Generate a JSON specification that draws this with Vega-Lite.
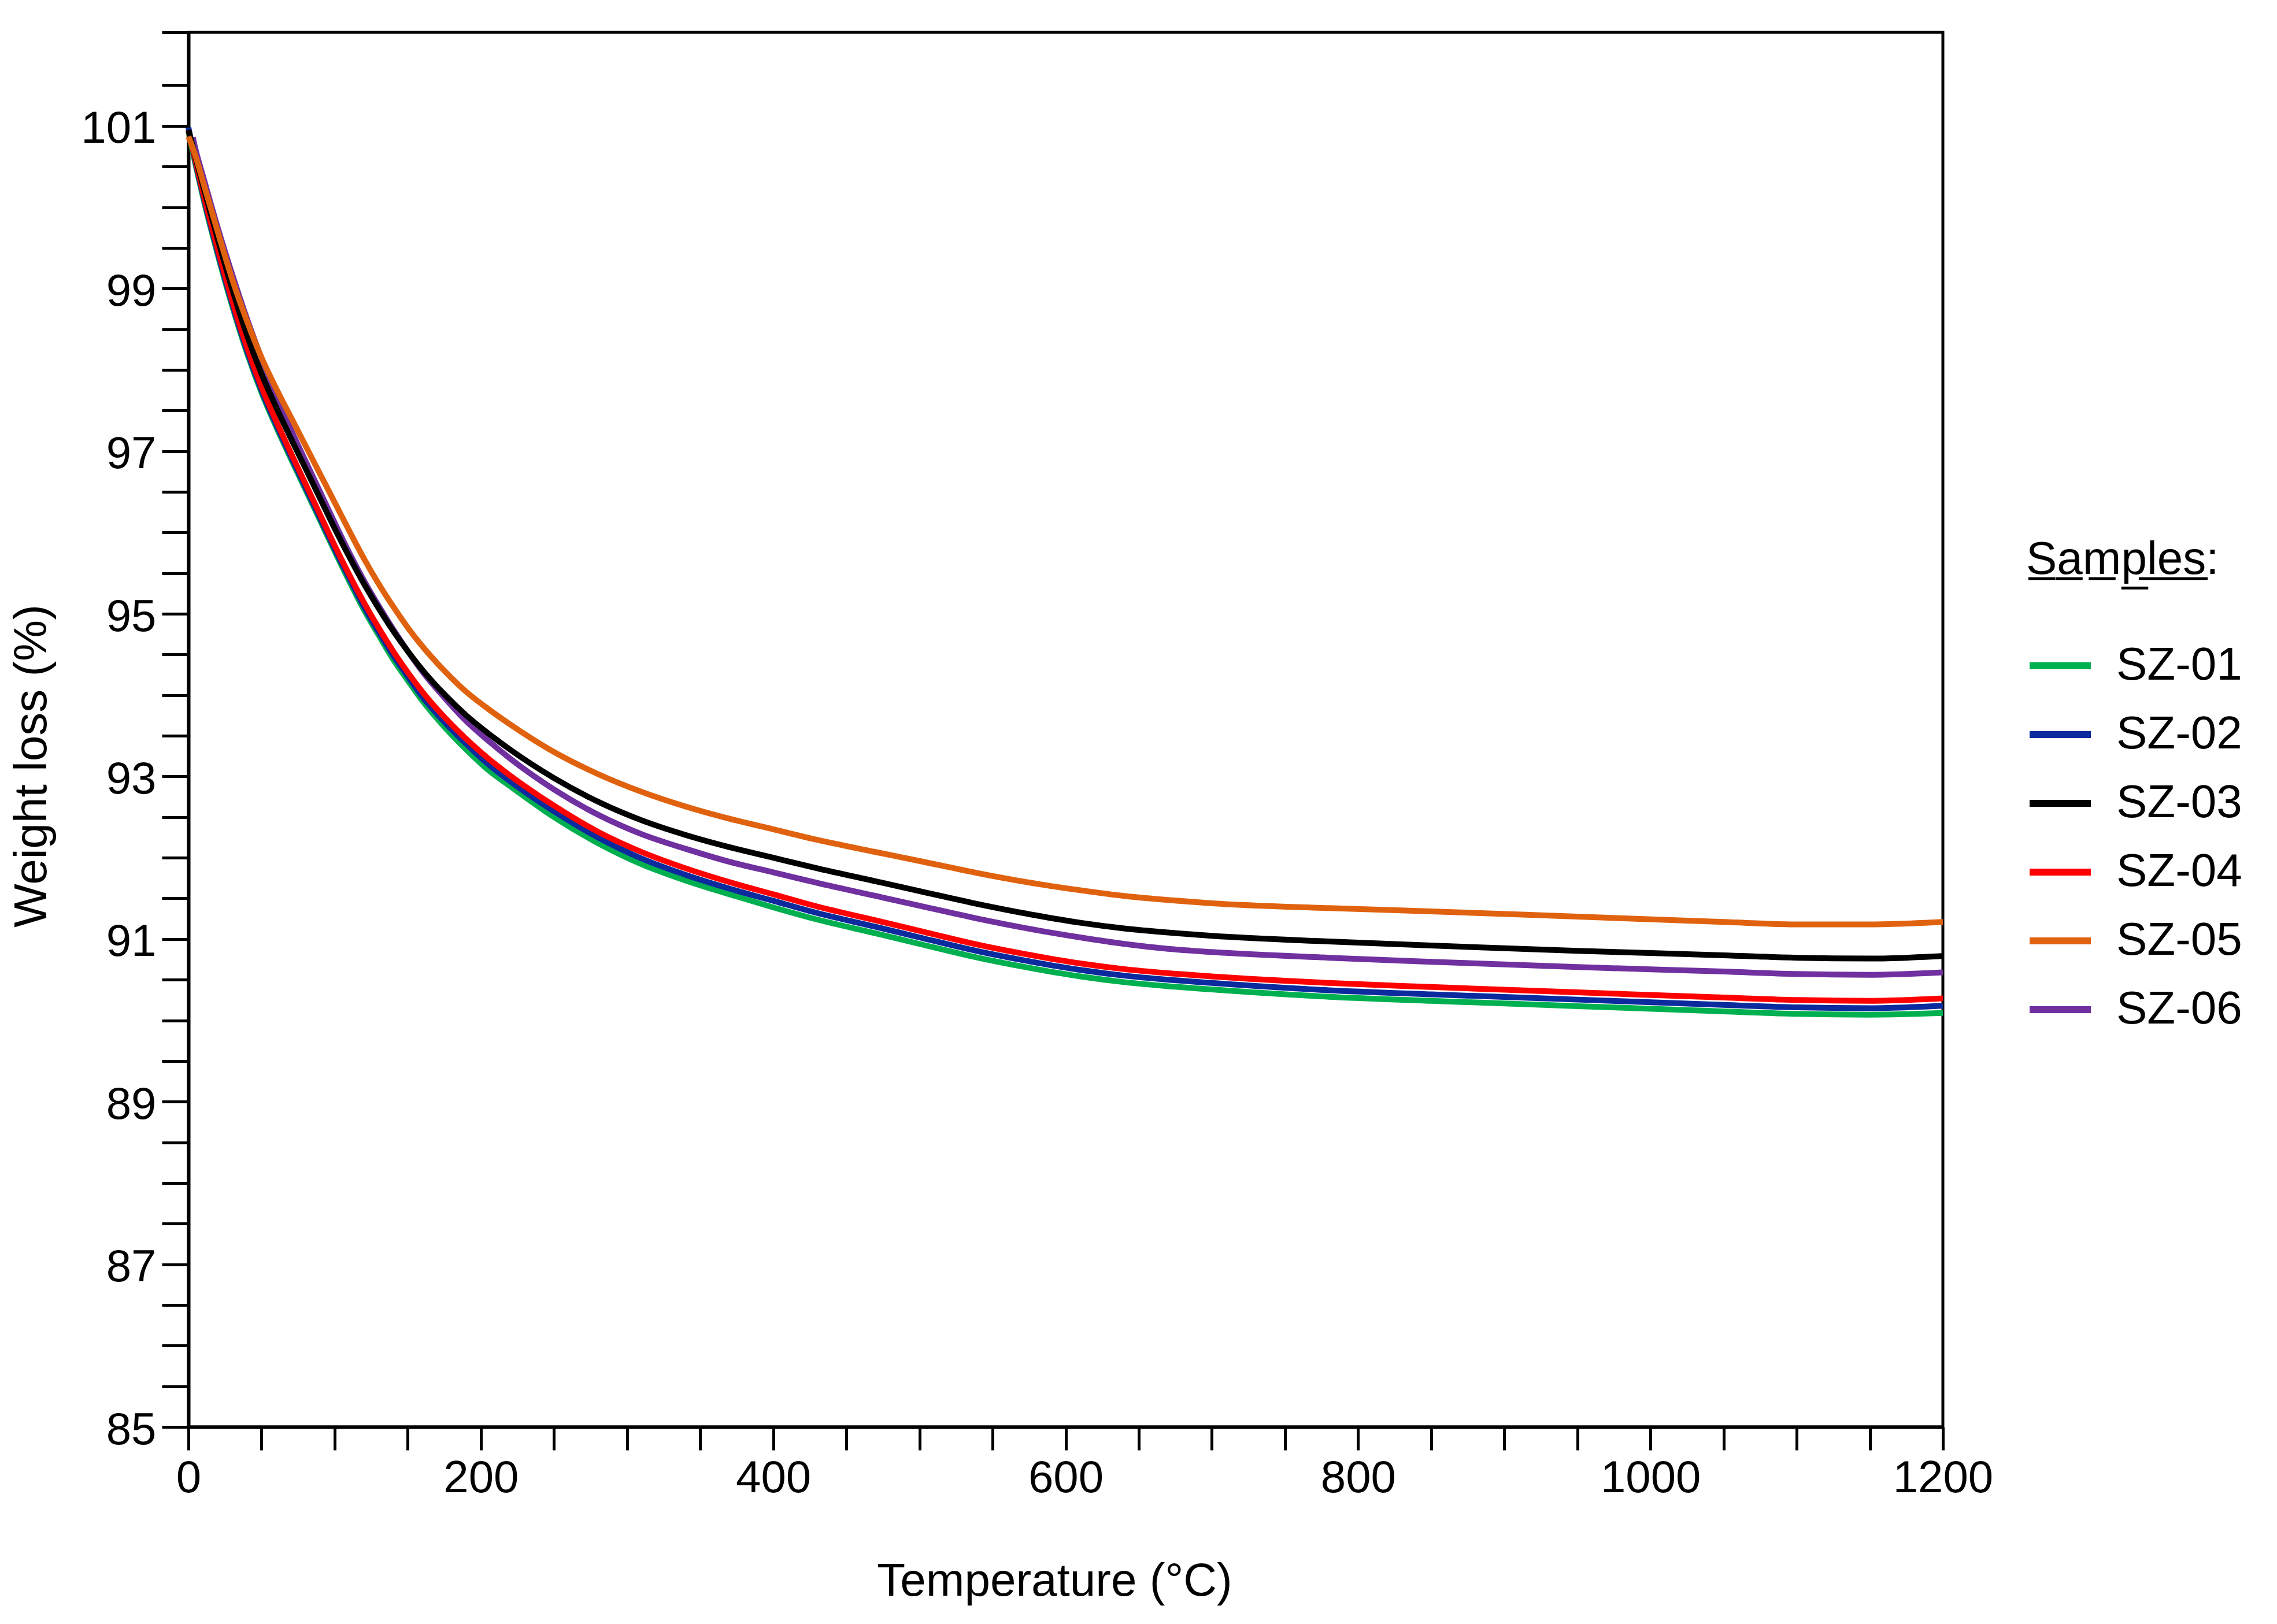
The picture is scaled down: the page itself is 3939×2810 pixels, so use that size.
{
  "$schema": "https://vega.github.io/schema/vega-lite/v6.json",
  "width": 3035,
  "height": 2413,
  "autosize": {"type": "none"},
  "padding": {"left": 326, "top": 56, "right": 578, "bottom": 341},
  "background": "white",
  "config": {
    "font": "Liberation Sans",
    "view": {"stroke": "black", "strokeWidth": 5},
    "axis": {
      "domainColor": "black",
      "tickColor": "black",
      "labelColor": "black",
      "titleColor": "black",
      "grid": false,
      "titleFontWeight": "normal",
      "labelOverlap": false,
      "labelFlush": false,
      "labelLimit": 600
    }
  },
  "data": {
    "values": [
      {"sample": "SZ-01", "temp": 0, "weight": 100.93},
      {"sample": "SZ-01", "temp": 5, "weight": 100.51},
      {"sample": "SZ-01", "temp": 10, "weight": 100.12},
      {"sample": "SZ-01", "temp": 20, "weight": 99.42},
      {"sample": "SZ-01", "temp": 30, "weight": 98.78},
      {"sample": "SZ-01", "temp": 40, "weight": 98.21},
      {"sample": "SZ-01", "temp": 50, "weight": 97.72},
      {"sample": "SZ-01", "temp": 60, "weight": 97.3},
      {"sample": "SZ-01", "temp": 70, "weight": 96.91},
      {"sample": "SZ-01", "temp": 80, "weight": 96.53},
      {"sample": "SZ-01", "temp": 90, "weight": 96.15},
      {"sample": "SZ-01", "temp": 100, "weight": 95.77},
      {"sample": "SZ-01", "temp": 110, "weight": 95.4},
      {"sample": "SZ-01", "temp": 120, "weight": 95.05},
      {"sample": "SZ-01", "temp": 130, "weight": 94.74},
      {"sample": "SZ-01", "temp": 140, "weight": 94.44},
      {"sample": "SZ-01", "temp": 150, "weight": 94.18},
      {"sample": "SZ-01", "temp": 160, "weight": 93.93},
      {"sample": "SZ-01", "temp": 175, "weight": 93.61},
      {"sample": "SZ-01", "temp": 190, "weight": 93.33},
      {"sample": "SZ-01", "temp": 205, "weight": 93.08},
      {"sample": "SZ-01", "temp": 220, "weight": 92.88},
      {"sample": "SZ-01", "temp": 250, "weight": 92.5},
      {"sample": "SZ-01", "temp": 280, "weight": 92.18},
      {"sample": "SZ-01", "temp": 310, "weight": 91.92},
      {"sample": "SZ-01", "temp": 340, "weight": 91.72},
      {"sample": "SZ-01", "temp": 370, "weight": 91.55},
      {"sample": "SZ-01", "temp": 400, "weight": 91.39},
      {"sample": "SZ-01", "temp": 430, "weight": 91.24},
      {"sample": "SZ-01", "temp": 470, "weight": 91.07},
      {"sample": "SZ-01", "temp": 500, "weight": 90.94},
      {"sample": "SZ-01", "temp": 540, "weight": 90.77},
      {"sample": "SZ-01", "temp": 580, "weight": 90.63},
      {"sample": "SZ-01", "temp": 610, "weight": 90.54},
      {"sample": "SZ-01", "temp": 640, "weight": 90.47},
      {"sample": "SZ-01", "temp": 670, "weight": 90.42},
      {"sample": "SZ-01", "temp": 700, "weight": 90.38},
      {"sample": "SZ-01", "temp": 780, "weight": 90.29},
      {"sample": "SZ-01", "temp": 850, "weight": 90.24},
      {"sample": "SZ-01", "temp": 950, "weight": 90.175},
      {"sample": "SZ-01", "temp": 1050, "weight": 90.11},
      {"sample": "SZ-01", "temp": 1100, "weight": 90.08},
      {"sample": "SZ-01", "temp": 1150, "weight": 90.07},
      {"sample": "SZ-01", "temp": 1200, "weight": 90.09},

      {"sample": "SZ-02", "temp": 0, "weight": 100.98},
      {"sample": "SZ-02", "temp": 5, "weight": 100.54},
      {"sample": "SZ-02", "temp": 10, "weight": 100.15},
      {"sample": "SZ-02", "temp": 20, "weight": 99.45},
      {"sample": "SZ-02", "temp": 30, "weight": 98.81},
      {"sample": "SZ-02", "temp": 40, "weight": 98.24},
      {"sample": "SZ-02", "temp": 50, "weight": 97.75},
      {"sample": "SZ-02", "temp": 60, "weight": 97.33},
      {"sample": "SZ-02", "temp": 70, "weight": 96.94},
      {"sample": "SZ-02", "temp": 80, "weight": 96.56},
      {"sample": "SZ-02", "temp": 90, "weight": 96.18},
      {"sample": "SZ-02", "temp": 100, "weight": 95.8},
      {"sample": "SZ-02", "temp": 110, "weight": 95.44},
      {"sample": "SZ-02", "temp": 120, "weight": 95.09},
      {"sample": "SZ-02", "temp": 130, "weight": 94.78},
      {"sample": "SZ-02", "temp": 140, "weight": 94.49},
      {"sample": "SZ-02", "temp": 150, "weight": 94.23},
      {"sample": "SZ-02", "temp": 160, "weight": 93.98},
      {"sample": "SZ-02", "temp": 175, "weight": 93.67},
      {"sample": "SZ-02", "temp": 190, "weight": 93.4},
      {"sample": "SZ-02", "temp": 205, "weight": 93.15},
      {"sample": "SZ-02", "temp": 220, "weight": 92.94},
      {"sample": "SZ-02", "temp": 250, "weight": 92.57},
      {"sample": "SZ-02", "temp": 280, "weight": 92.25},
      {"sample": "SZ-02", "temp": 310, "weight": 91.99},
      {"sample": "SZ-02", "temp": 340, "weight": 91.79},
      {"sample": "SZ-02", "temp": 370, "weight": 91.62},
      {"sample": "SZ-02", "temp": 400, "weight": 91.47},
      {"sample": "SZ-02", "temp": 430, "weight": 91.32},
      {"sample": "SZ-02", "temp": 470, "weight": 91.15},
      {"sample": "SZ-02", "temp": 500, "weight": 91.02},
      {"sample": "SZ-02", "temp": 540, "weight": 90.85},
      {"sample": "SZ-02", "temp": 580, "weight": 90.71},
      {"sample": "SZ-02", "temp": 610, "weight": 90.62},
      {"sample": "SZ-02", "temp": 640, "weight": 90.55},
      {"sample": "SZ-02", "temp": 670, "weight": 90.5},
      {"sample": "SZ-02", "temp": 700, "weight": 90.46},
      {"sample": "SZ-02", "temp": 780, "weight": 90.37},
      {"sample": "SZ-02", "temp": 850, "weight": 90.32},
      {"sample": "SZ-02", "temp": 950, "weight": 90.255},
      {"sample": "SZ-02", "temp": 1050, "weight": 90.19},
      {"sample": "SZ-02", "temp": 1100, "weight": 90.16},
      {"sample": "SZ-02", "temp": 1150, "weight": 90.15},
      {"sample": "SZ-02", "temp": 1200, "weight": 90.18},

      {"sample": "SZ-04", "temp": 0, "weight": 100.95},
      {"sample": "SZ-04", "temp": 5, "weight": 100.56},
      {"sample": "SZ-04", "temp": 10, "weight": 100.18},
      {"sample": "SZ-04", "temp": 20, "weight": 99.49},
      {"sample": "SZ-04", "temp": 30, "weight": 98.85},
      {"sample": "SZ-04", "temp": 40, "weight": 98.28},
      {"sample": "SZ-04", "temp": 50, "weight": 97.79},
      {"sample": "SZ-04", "temp": 60, "weight": 97.37},
      {"sample": "SZ-04", "temp": 70, "weight": 96.98},
      {"sample": "SZ-04", "temp": 80, "weight": 96.6},
      {"sample": "SZ-04", "temp": 90, "weight": 96.22},
      {"sample": "SZ-04", "temp": 100, "weight": 95.84},
      {"sample": "SZ-04", "temp": 110, "weight": 95.48},
      {"sample": "SZ-04", "temp": 120, "weight": 95.14},
      {"sample": "SZ-04", "temp": 130, "weight": 94.83},
      {"sample": "SZ-04", "temp": 140, "weight": 94.54},
      {"sample": "SZ-04", "temp": 150, "weight": 94.28},
      {"sample": "SZ-04", "temp": 160, "weight": 94.04},
      {"sample": "SZ-04", "temp": 175, "weight": 93.73},
      {"sample": "SZ-04", "temp": 190, "weight": 93.46},
      {"sample": "SZ-04", "temp": 205, "weight": 93.22},
      {"sample": "SZ-04", "temp": 220, "weight": 93.01},
      {"sample": "SZ-04", "temp": 250, "weight": 92.64},
      {"sample": "SZ-04", "temp": 280, "weight": 92.32},
      {"sample": "SZ-04", "temp": 310, "weight": 92.07},
      {"sample": "SZ-04", "temp": 340, "weight": 91.87},
      {"sample": "SZ-04", "temp": 370, "weight": 91.7},
      {"sample": "SZ-04", "temp": 400, "weight": 91.55},
      {"sample": "SZ-04", "temp": 430, "weight": 91.4},
      {"sample": "SZ-04", "temp": 470, "weight": 91.23},
      {"sample": "SZ-04", "temp": 500, "weight": 91.1},
      {"sample": "SZ-04", "temp": 540, "weight": 90.93},
      {"sample": "SZ-04", "temp": 580, "weight": 90.79},
      {"sample": "SZ-04", "temp": 610, "weight": 90.7},
      {"sample": "SZ-04", "temp": 640, "weight": 90.63},
      {"sample": "SZ-04", "temp": 670, "weight": 90.58},
      {"sample": "SZ-04", "temp": 700, "weight": 90.54},
      {"sample": "SZ-04", "temp": 780, "weight": 90.46},
      {"sample": "SZ-04", "temp": 850, "weight": 90.41},
      {"sample": "SZ-04", "temp": 950, "weight": 90.345},
      {"sample": "SZ-04", "temp": 1050, "weight": 90.28},
      {"sample": "SZ-04", "temp": 1100, "weight": 90.25},
      {"sample": "SZ-04", "temp": 1150, "weight": 90.24},
      {"sample": "SZ-04", "temp": 1200, "weight": 90.27},

      {"sample": "SZ-06", "temp": 3, "weight": 100.86},
      {"sample": "SZ-06", "temp": 5, "weight": 100.7},
      {"sample": "SZ-06", "temp": 10, "weight": 100.38},
      {"sample": "SZ-06", "temp": 20, "weight": 99.75},
      {"sample": "SZ-06", "temp": 30, "weight": 99.17},
      {"sample": "SZ-06", "temp": 40, "weight": 98.63},
      {"sample": "SZ-06", "temp": 50, "weight": 98.14},
      {"sample": "SZ-06", "temp": 60, "weight": 97.69},
      {"sample": "SZ-06", "temp": 70, "weight": 97.27},
      {"sample": "SZ-06", "temp": 80, "weight": 96.88},
      {"sample": "SZ-06", "temp": 90, "weight": 96.5},
      {"sample": "SZ-06", "temp": 100, "weight": 96.12},
      {"sample": "SZ-06", "temp": 110, "weight": 95.75},
      {"sample": "SZ-06", "temp": 120, "weight": 95.41},
      {"sample": "SZ-06", "temp": 130, "weight": 95.1},
      {"sample": "SZ-06", "temp": 140, "weight": 94.81},
      {"sample": "SZ-06", "temp": 150, "weight": 94.54},
      {"sample": "SZ-06", "temp": 160, "weight": 94.29},
      {"sample": "SZ-06", "temp": 175, "weight": 93.97},
      {"sample": "SZ-06", "temp": 190, "weight": 93.68},
      {"sample": "SZ-06", "temp": 205, "weight": 93.44},
      {"sample": "SZ-06", "temp": 220, "weight": 93.22},
      {"sample": "SZ-06", "temp": 250, "weight": 92.84},
      {"sample": "SZ-06", "temp": 280, "weight": 92.53},
      {"sample": "SZ-06", "temp": 310, "weight": 92.29},
      {"sample": "SZ-06", "temp": 340, "weight": 92.11},
      {"sample": "SZ-06", "temp": 370, "weight": 91.95},
      {"sample": "SZ-06", "temp": 400, "weight": 91.82},
      {"sample": "SZ-06", "temp": 430, "weight": 91.69},
      {"sample": "SZ-06", "temp": 470, "weight": 91.53},
      {"sample": "SZ-06", "temp": 500, "weight": 91.41},
      {"sample": "SZ-06", "temp": 540, "weight": 91.25},
      {"sample": "SZ-06", "temp": 580, "weight": 91.11},
      {"sample": "SZ-06", "temp": 610, "weight": 91.02},
      {"sample": "SZ-06", "temp": 640, "weight": 90.94},
      {"sample": "SZ-06", "temp": 670, "weight": 90.88},
      {"sample": "SZ-06", "temp": 700, "weight": 90.84},
      {"sample": "SZ-06", "temp": 780, "weight": 90.77},
      {"sample": "SZ-06", "temp": 850, "weight": 90.72},
      {"sample": "SZ-06", "temp": 950, "weight": 90.655},
      {"sample": "SZ-06", "temp": 1050, "weight": 90.6},
      {"sample": "SZ-06", "temp": 1100, "weight": 90.57},
      {"sample": "SZ-06", "temp": 1150, "weight": 90.56},
      {"sample": "SZ-06", "temp": 1200, "weight": 90.59},

      {"sample": "SZ-03", "temp": 0, "weight": 100.95},
      {"sample": "SZ-03", "temp": 5, "weight": 100.6},
      {"sample": "SZ-03", "temp": 10, "weight": 100.26},
      {"sample": "SZ-03", "temp": 20, "weight": 99.61},
      {"sample": "SZ-03", "temp": 30, "weight": 98.99},
      {"sample": "SZ-03", "temp": 40, "weight": 98.43},
      {"sample": "SZ-03", "temp": 50, "weight": 97.95},
      {"sample": "SZ-03", "temp": 60, "weight": 97.54},
      {"sample": "SZ-03", "temp": 70, "weight": 97.16},
      {"sample": "SZ-03", "temp": 80, "weight": 96.79},
      {"sample": "SZ-03", "temp": 90, "weight": 96.42},
      {"sample": "SZ-03", "temp": 100, "weight": 96.05},
      {"sample": "SZ-03", "temp": 110, "weight": 95.7},
      {"sample": "SZ-03", "temp": 120, "weight": 95.37},
      {"sample": "SZ-03", "temp": 130, "weight": 95.07},
      {"sample": "SZ-03", "temp": 140, "weight": 94.79},
      {"sample": "SZ-03", "temp": 150, "weight": 94.54},
      {"sample": "SZ-03", "temp": 160, "weight": 94.31},
      {"sample": "SZ-03", "temp": 175, "weight": 94.01},
      {"sample": "SZ-03", "temp": 190, "weight": 93.75},
      {"sample": "SZ-03", "temp": 205, "weight": 93.53},
      {"sample": "SZ-03", "temp": 220, "weight": 93.33},
      {"sample": "SZ-03", "temp": 250, "weight": 92.98},
      {"sample": "SZ-03", "temp": 280, "weight": 92.69},
      {"sample": "SZ-03", "temp": 310, "weight": 92.46},
      {"sample": "SZ-03", "temp": 340, "weight": 92.28},
      {"sample": "SZ-03", "temp": 370, "weight": 92.13},
      {"sample": "SZ-03", "temp": 400, "weight": 92.0},
      {"sample": "SZ-03", "temp": 430, "weight": 91.87},
      {"sample": "SZ-03", "temp": 470, "weight": 91.71},
      {"sample": "SZ-03", "temp": 500, "weight": 91.59},
      {"sample": "SZ-03", "temp": 540, "weight": 91.43},
      {"sample": "SZ-03", "temp": 580, "weight": 91.29},
      {"sample": "SZ-03", "temp": 610, "weight": 91.2},
      {"sample": "SZ-03", "temp": 640, "weight": 91.13},
      {"sample": "SZ-03", "temp": 670, "weight": 91.08},
      {"sample": "SZ-03", "temp": 700, "weight": 91.04},
      {"sample": "SZ-03", "temp": 780, "weight": 90.97},
      {"sample": "SZ-03", "temp": 850, "weight": 90.92},
      {"sample": "SZ-03", "temp": 950, "weight": 90.855},
      {"sample": "SZ-03", "temp": 1050, "weight": 90.8},
      {"sample": "SZ-03", "temp": 1100, "weight": 90.77},
      {"sample": "SZ-03", "temp": 1150, "weight": 90.76},
      {"sample": "SZ-03", "temp": 1200, "weight": 90.79},

      {"sample": "SZ-05", "temp": 0, "weight": 100.87},
      {"sample": "SZ-05", "temp": 5, "weight": 100.62},
      {"sample": "SZ-05", "temp": 10, "weight": 100.31},
      {"sample": "SZ-05", "temp": 20, "weight": 99.7},
      {"sample": "SZ-05", "temp": 30, "weight": 99.11},
      {"sample": "SZ-05", "temp": 40, "weight": 98.6},
      {"sample": "SZ-05", "temp": 50, "weight": 98.15},
      {"sample": "SZ-05", "temp": 60, "weight": 97.77},
      {"sample": "SZ-05", "temp": 70, "weight": 97.42},
      {"sample": "SZ-05", "temp": 80, "weight": 97.07},
      {"sample": "SZ-05", "temp": 90, "weight": 96.72},
      {"sample": "SZ-05", "temp": 100, "weight": 96.37},
      {"sample": "SZ-05", "temp": 110, "weight": 96.02},
      {"sample": "SZ-05", "temp": 120, "weight": 95.68},
      {"sample": "SZ-05", "temp": 130, "weight": 95.37},
      {"sample": "SZ-05", "temp": 140, "weight": 95.09},
      {"sample": "SZ-05", "temp": 150, "weight": 94.83},
      {"sample": "SZ-05", "temp": 160, "weight": 94.6},
      {"sample": "SZ-05", "temp": 175, "weight": 94.3},
      {"sample": "SZ-05", "temp": 190, "weight": 94.04},
      {"sample": "SZ-05", "temp": 205, "weight": 93.83},
      {"sample": "SZ-05", "temp": 220, "weight": 93.64},
      {"sample": "SZ-05", "temp": 250, "weight": 93.3},
      {"sample": "SZ-05", "temp": 280, "weight": 93.03},
      {"sample": "SZ-05", "temp": 310, "weight": 92.81},
      {"sample": "SZ-05", "temp": 340, "weight": 92.63},
      {"sample": "SZ-05", "temp": 370, "weight": 92.48},
      {"sample": "SZ-05", "temp": 400, "weight": 92.35},
      {"sample": "SZ-05", "temp": 430, "weight": 92.22},
      {"sample": "SZ-05", "temp": 470, "weight": 92.07},
      {"sample": "SZ-05", "temp": 500, "weight": 91.96},
      {"sample": "SZ-05", "temp": 540, "weight": 91.81},
      {"sample": "SZ-05", "temp": 580, "weight": 91.68},
      {"sample": "SZ-05", "temp": 610, "weight": 91.6},
      {"sample": "SZ-05", "temp": 640, "weight": 91.53},
      {"sample": "SZ-05", "temp": 670, "weight": 91.48},
      {"sample": "SZ-05", "temp": 700, "weight": 91.44},
      {"sample": "SZ-05", "temp": 780, "weight": 91.38},
      {"sample": "SZ-05", "temp": 850, "weight": 91.34},
      {"sample": "SZ-05", "temp": 950, "weight": 91.275},
      {"sample": "SZ-05", "temp": 1050, "weight": 91.21},
      {"sample": "SZ-05", "temp": 1100, "weight": 91.18},
      {"sample": "SZ-05", "temp": 1150, "weight": 91.18},
      {"sample": "SZ-05", "temp": 1200, "weight": 91.21}
    ]
  },
  "mark": {"type": "line", "interpolate": "monotone", "strokeWidth": 10},
  "encoding": {
    "x": {
      "field": "temp",
      "type": "quantitative",
      "scale": {"domain": [0, 1200], "nice": false},
      "axis": {
        "title": "Temperature (°C)",
        "values": [0, 50, 100, 150, 200, 250, 300, 350, 400, 450, 500, 550, 600, 650, 700, 750, 800, 850, 900, 950, 1000, 1050, 1100, 1150, 1200],
        "labelExpr": "datum.value % 200 === 0 ? datum.label : ''",
        "format": "d",
        "tickSize": 40,
        "tickWidth": 5,
        "domainWidth": 6,
        "labelFontSize": 78,
        "labelPadding": 10,
        "titleFontSize": 80,
        "titlePadding": 100,
        "titleX": 1498
      }
    },
    "y": {
      "field": "weight",
      "type": "quantitative",
      "scale": {"domain": [85, 102.15], "nice": false, "zero": false},
      "axis": {
        "title": "Weight loss (%)",
        "values": [85, 85.5, 86, 86.5, 87, 87.5, 88, 88.5, 89, 89.5, 90, 90.5, 91, 91.5, 92, 92.5, 93, 93.5, 94, 94.5, 95, 95.5, 96, 96.5, 97, 97.5, 98, 98.5, 99, 99.5, 100, 100.5, 101, 101.5, 102.15],
        "labelExpr": "datum.value % 2 === 1 ? format(datum.value, 'd') : ''",
        "tickSize": 46,
        "tickWidth": 5,
        "domainWidth": 6,
        "labelFontSize": 78,
        "labelPadding": 10,
        "labelOffset": 6,
        "titleFontSize": 80,
        "titlePadding": 43,
        "titleY": 1269
      }
    },
    "color": {
      "field": "sample",
      "type": "nominal",
      "scale": {
        "domain": ["SZ-01", "SZ-02", "SZ-03", "SZ-04", "SZ-05", "SZ-06"],
        "range": ["#00b050", "#0a2a9e", "#000000", "#ff0000", "#e0620e", "#7030a0"]
      },
      "legend": {
        "title": "S\u0332a\u0332m\u0332p\u0332l\u0332e\u0332s\u0332:",
        "orient": "none",
        "legendX": 3179,
        "legendY": 874,
        "padding": 0,
        "titleFontSize": 80,
        "titleFontWeight": "normal",
        "titleColor": "black",
        "titleLimit": 1000,
        "titlePadding": 83,
        "labelFontSize": 80,
        "labelColor": "black",
        "labelLimit": 1000,
        "labelOffset": 38,
        "symbolType": "stroke",
        "symbolStrokeWidth": 12,
        "symbolSize": 11236,
        "rowPadding": 20
      }
    }
  }
}
